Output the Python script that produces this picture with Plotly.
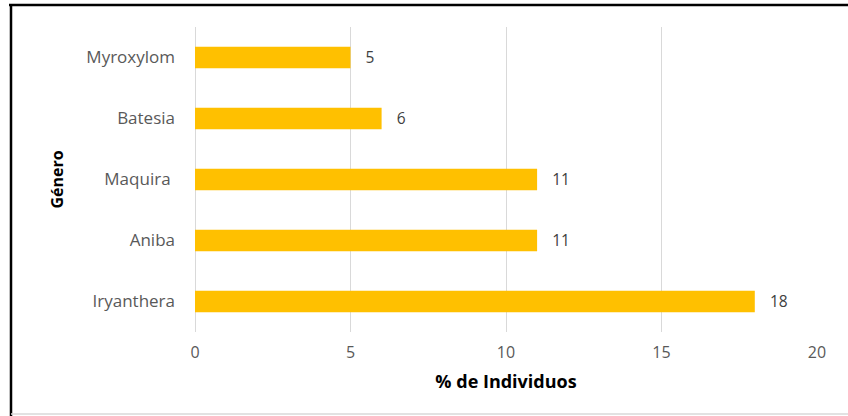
import plotly.graph_objects as go

genera = ["Iryanthera", "Aniba", "Maquira ", "Batesia", "Myroxylom"]
pct = [18, 11, 11, 6, 5]
x_ticks = [0, 5, 10, 15, 20]

PW, PH = 622, 305

fig = go.Figure(go.Bar(
    x=pct, y=genera, orientation="h",
    marker=dict(color="#FFC000", line=dict(width=0)),
    width=0.35,
    text=pct, texttemplate="   %{x}", textposition="outside",
    textfont=dict(family="Open Sans", size=16, color="#404040"),
    cliponaxis=False,
))

fig.update_layout(
    width=848, height=416,
    margin=dict(l=195, r=31, t=27, b=84),
    paper_bgcolor="white", plot_bgcolor="white",
    showlegend=False,
    xaxis=dict(
        range=[0, 20], tickvals=x_ticks, showgrid=True, gridcolor="#D9D9D9", gridwidth=1,
        zeroline=True, zerolinecolor="#D9D9D9", zerolinewidth=1,
        tickfont=dict(family="Open Sans", size=16, color="#595959"),
        ticklabelstandoff=9,
        title=dict(text="<b>% de Individuos</b>", font=dict(family="Open Sans", size=18, color="black"), standoff=13),
        showline=False,
    ),
    yaxis=dict(
        showgrid=False, zeroline=False, showline=False,
        tickfont=dict(family="Open Sans", size=17, color="#595959"),
        ticklabelstandoff=19,
        title=dict(text="<b>Género</b>", font=dict(family="Open Sans", size=16, color="black"), standoff=18),
    ),
    shapes=[
        dict(type="line", xref="paper", yref="paper", x0=-186/PW, x1=1.1, y0=1 + 22/PH, y1=1 + 22/PH,
             line=dict(color="black", width=2.5)),
        dict(type="line", xref="paper", yref="paper", x0=-184/PW, x1=-184/PW, y0=1 + 23/PH, y1=-1,
             line=dict(color="black", width=2.5)),
        dict(type="line", xref="paper", yref="paper", x0=-184/PW, x1=1.1, y0=-82/PH, y1=-82/PH,
             line=dict(color="#D9D9D9", width=1.5)),
    ],
)

fig.write_html("out.html")
